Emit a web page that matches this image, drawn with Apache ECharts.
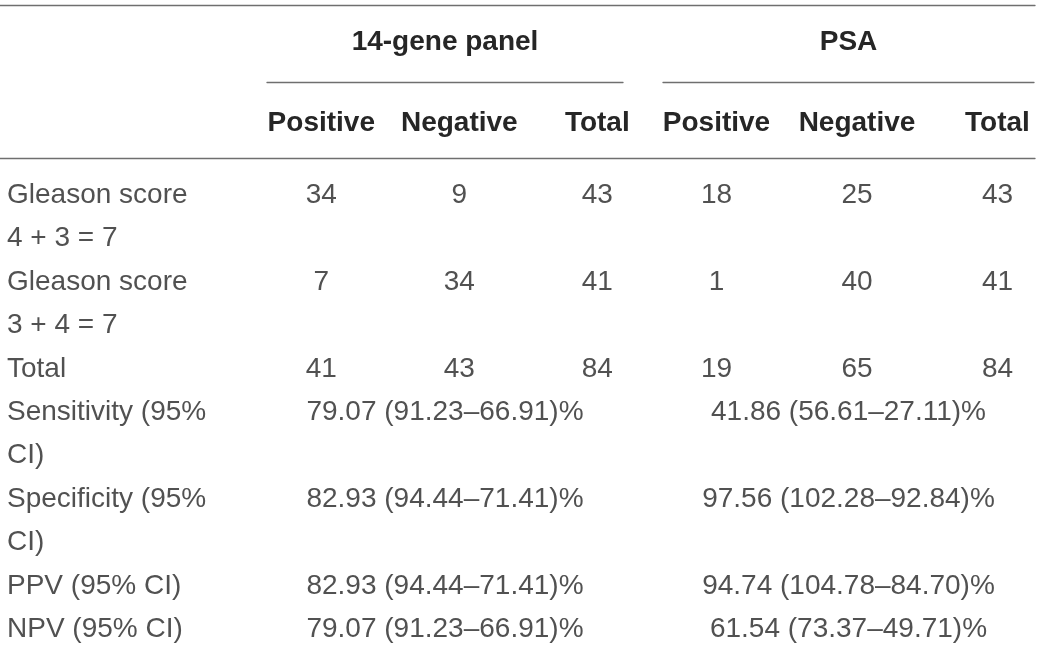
<!DOCTYPE html>
<html>
<head>
<meta charset="utf-8">
<script src="https://cdn.jsdelivr.net/npm/echarts@6/dist/echarts.min.js"></script>
<style>
  html, body { margin: 0; padding: 0; background: #ffffff; }
  #chart { width: 1040px; height: 657px; }
</style>
</head>
<body>
<div id="chart"></div>
<script>
// ---- table content ----
const rowLabels = [
  'Gleason score\n4 + 3 = 7',
  'Gleason score\n3 + 4 = 7',
  'Total',
  'Sensitivity (95%\nCI)',
  'Specificity (95%\nCI)',
  'PPV (95% CI)',
  'NPV (95% CI)'
];
const groupNames = ['14-gene panel', 'PSA'];
const subColumns = ['Positive', 'Negative', 'Total'];
const panelCounts = [[34, 9, 43], [7, 34, 41], [41, 43, 84]];
const psaCounts = [[18, 25, 43], [1, 40, 41], [19, 65, 84]];
const panelMetrics = ['79.07 (91.23–66.91)%', '82.93 (94.44–71.41)%', '82.93 (94.44–71.41)%', '79.07 (91.23–66.91)%'];
const psaMetrics = ['41.86 (56.61–27.11)%', '97.56 (102.28–92.84)%', '94.74 (104.78–84.70)%', '61.54 (73.37–49.71)%'];

// ---- derived line slots ----
const rowLines = rowLabels.map(s => s.split('\n'));
const rowStart = [];
let acc = 0;
rowLines.forEach(l => { rowStart.push(acc); acc += l.length; });
const totalLines = acc;
const lineCats = Array.from({length: totalLines}, (_, i) => String(i));

// ---- styling ----
const FONT = "'Liberation Sans', Arial, Helvetica, sans-serif";
const TXT = '#262626';
const RULE = '#6f6f6f';
const FS = 28;
const LINE_H = 43.4;
const BODY_TOP = 173.5;
const BODY_H = LINE_H * totalLines;

const hiddenAxis = { axisLine: {show: false}, axisTick: {show: false}, axisLabel: {show: false}, splitLine: {show: false} };
const ruleLine = { show: true, onZero: false, lineStyle: { color: RULE, width: 1.3 } };

const gridBase = { outerBoundsMode: 'none', containLabel: false };
const grids = [
  { left: 0, right: 5, top: 5, height: 153 },                    // 0 frame rules
  { left: 7, width: 240, top: BODY_TOP, height: BODY_H },        // 1 row labels
  { left: 252.3, width: 414, top: BODY_TOP, height: BODY_H },    // 2 panel columns
  { left: 646.25, right: -27.75, top: BODY_TOP, height: BODY_H },// 3 PSA columns
  { left: 267, width: 356, top: BODY_TOP, height: BODY_H },      // 4 panel merged
  { left: 663, width: 371, top: BODY_TOP, height: BODY_H }       // 5 PSA merged
].map(g => Object.assign({}, gridBase, g));

const headLabel = (margin) => ({ show: true, interval: 0, margin: margin, verticalAlign: 'middle', fontSize: FS, fontWeight: 'bold', color: TXT, fontFamily: FONT });

const xAxes = [
  Object.assign({ gridIndex: 0, type: 'value', min: 0, max: 1, position: 'top' }, hiddenAxis, { axisLine: ruleLine }),
  Object.assign({ gridIndex: 0, type: 'value', min: 0, max: 1, position: 'bottom' }, hiddenAxis, { axisLine: ruleLine }),
  Object.assign({ gridIndex: 1, type: 'value', min: 0, max: 1 }, hiddenAxis),
  Object.assign({ gridIndex: 2, type: 'category', data: subColumns, position: 'top' }, hiddenAxis, { axisLabel: headLabel(BODY_TOP - 123) }),
  Object.assign({ gridIndex: 3, type: 'category', data: subColumns, position: 'top' }, hiddenAxis, { axisLabel: headLabel(BODY_TOP - 123) }),
  Object.assign({ gridIndex: 4, type: 'category', data: [groupNames[0]], position: 'top', offset: BODY_TOP - 82 }, hiddenAxis, {
    axisLine: ruleLine, axisLabel: headLabel(40)
  }),
  Object.assign({ gridIndex: 5, type: 'category', data: [groupNames[1]], position: 'top', offset: BODY_TOP - 82 }, hiddenAxis, {
    axisLine: ruleLine, axisLabel: headLabel(40)
  })
];

const yAxes = [
  Object.assign({ gridIndex: 0, type: 'value', min: 0, max: 1 }, hiddenAxis)
];
for (let g = 1; g <= 5; g++) {
  yAxes.push(Object.assign({ gridIndex: g, type: 'category', data: lineCats, inverse: true }, hiddenAxis));
}

const textLabel = (pos) => ({
  show: true, position: pos, distance: 0, formatter: '{b}',
  fontSize: FS, color: TXT, fontFamily: FONT
});

function scatter(xi, yi, data, pos) {
  return {
    type: 'scatter', xAxisIndex: xi, yAxisIndex: yi, symbolSize: 0, silent: true,
    label: textLabel(pos), emphasis: { disabled: true }, data: data
  };
}

// row label lines
const labelData = [];
rowLines.forEach((lines, r) => lines.forEach((t, k) => labelData.push({ name: t, value: [0, rowStart[r] + k] })));

function countData(counts) {
  const out = [];
  counts.forEach((row, r) => row.forEach((v, c) => out.push({ name: String(v), value: [c, rowStart[r]] })));
  return out;
}
function metricData(metrics) {
  const offset = panelCounts.length;
  return metrics.map((m, i) => ({ name: m, value: [0, rowStart[offset + i]] }));
}

const option = {
  animation: false,
  backgroundColor: '#ffffff',
  grid: grids,
  xAxis: xAxes,
  yAxis: yAxes,
  series: [
    scatter(2, 1, labelData, 'right'),
    scatter(3, 2, countData(panelCounts), 'inside'),
    scatter(4, 3, countData(psaCounts), 'inside'),
    scatter(5, 4, metricData(panelMetrics), 'inside'),
    scatter(6, 5, metricData(psaMetrics), 'inside')
  ]
};

const chart = echarts.init(document.getElementById('chart'), null, { renderer: 'canvas' });
chart.setOption(option);
</script>
</body>
</html>
